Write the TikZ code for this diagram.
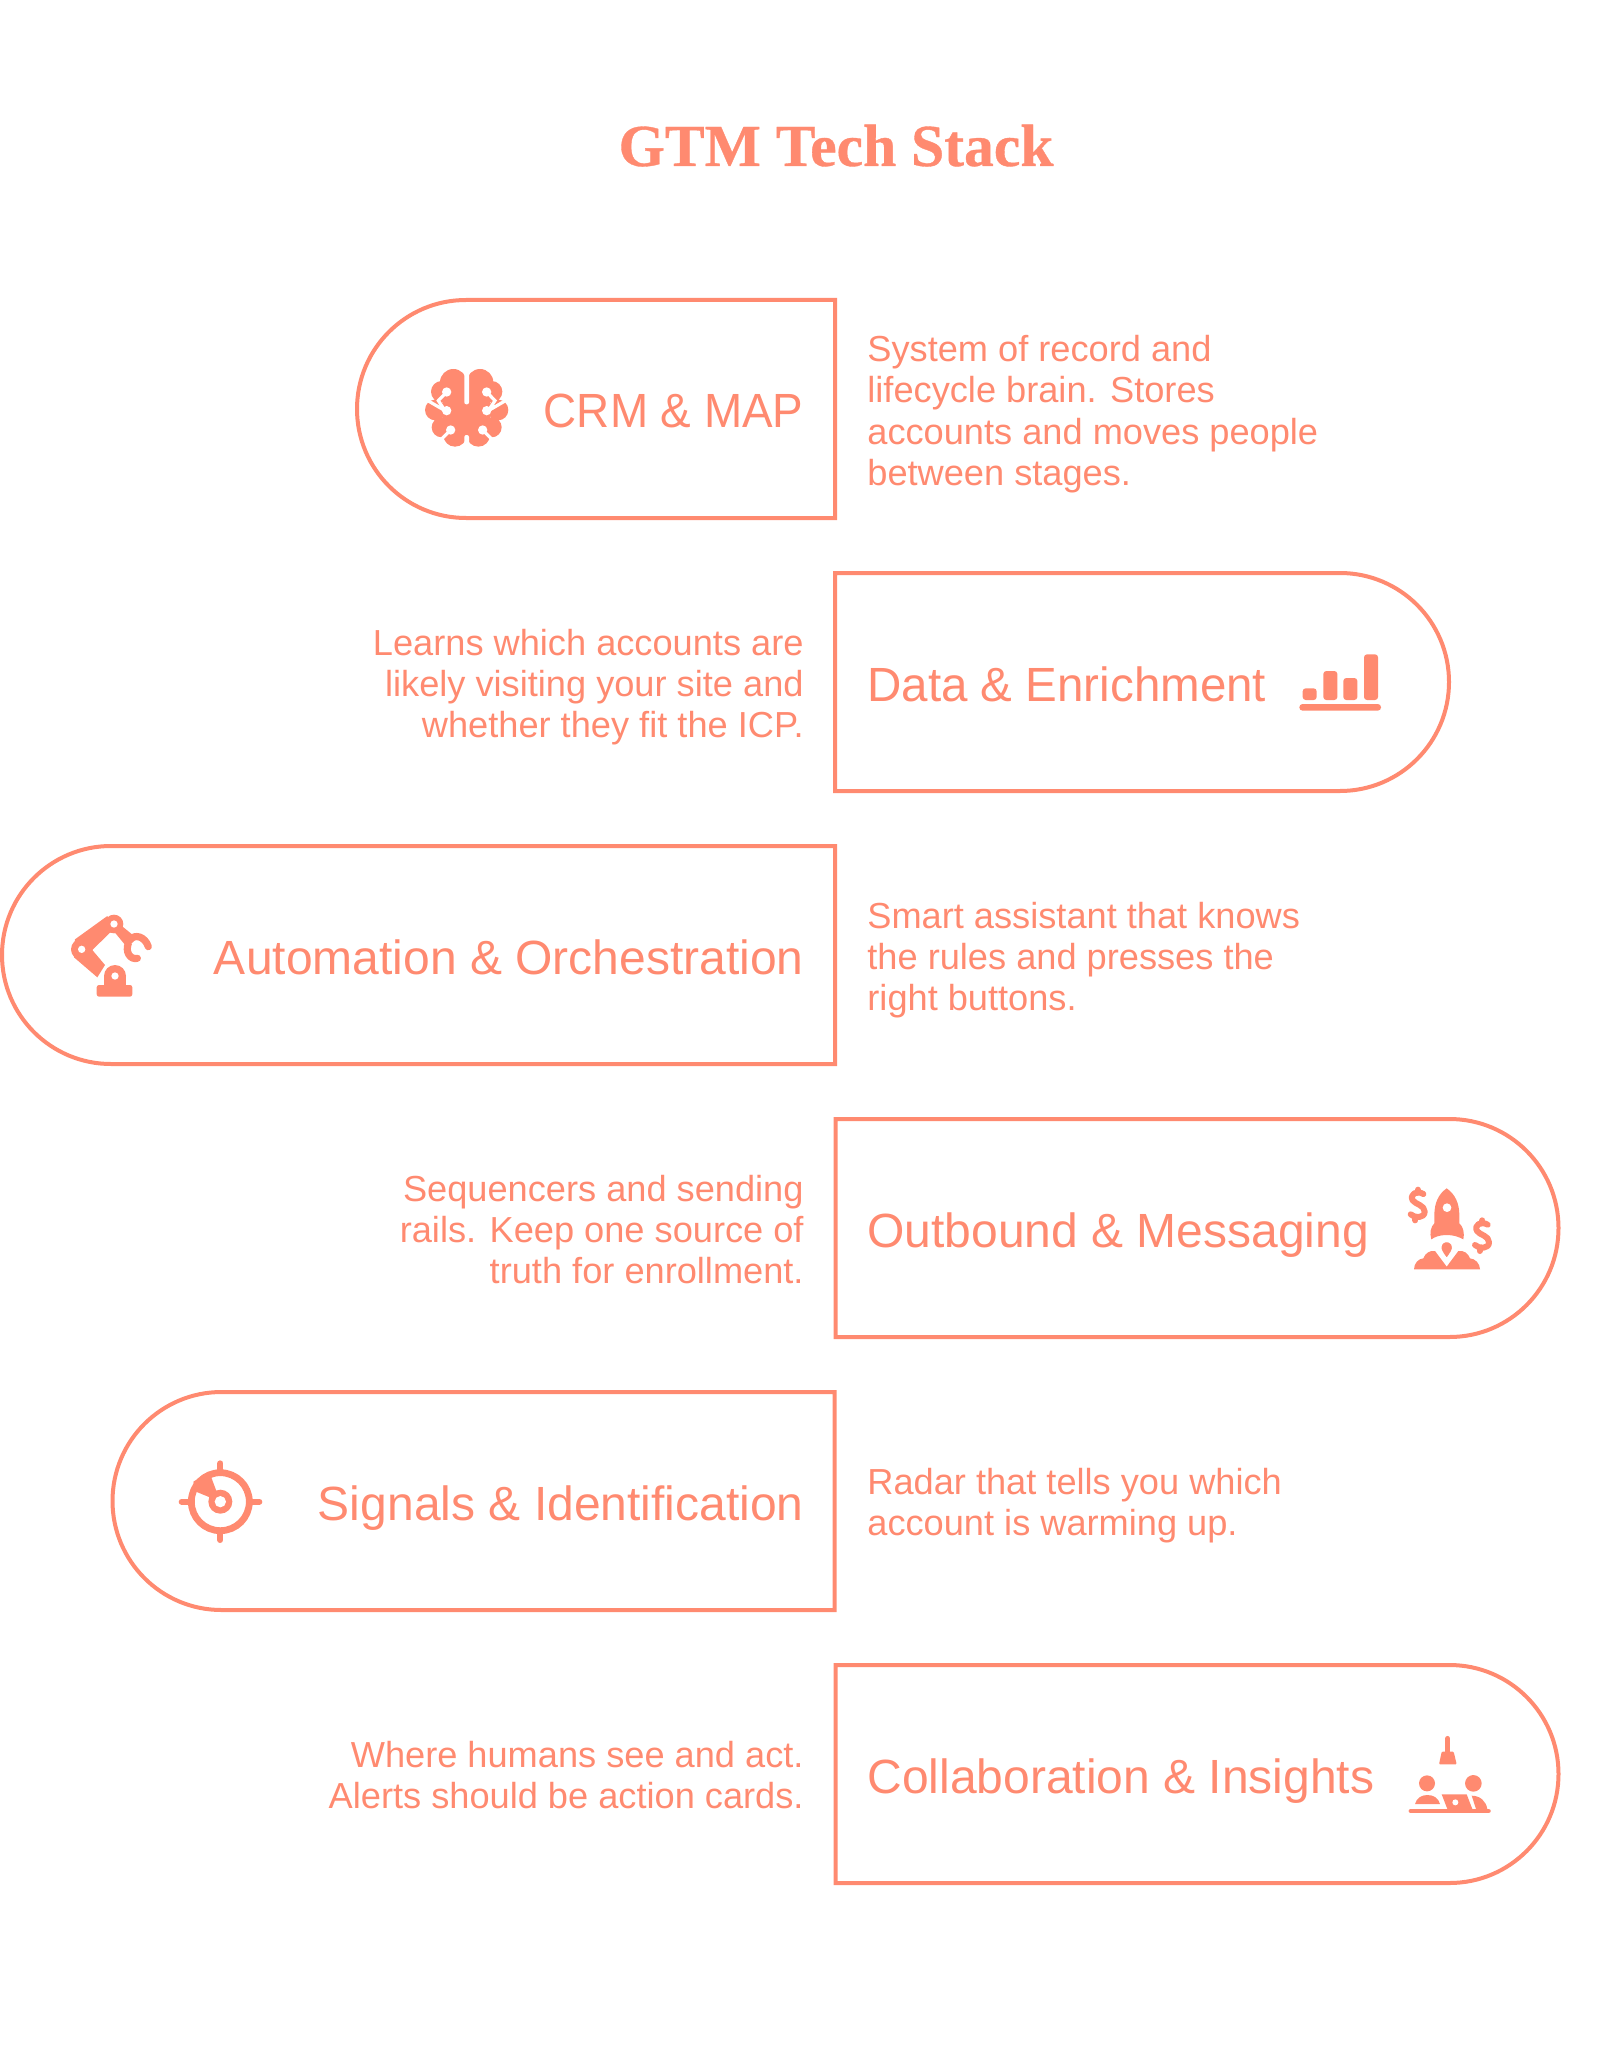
\documentclass[tikz,border=0pt]{standalone}
\usepackage{fontspec}
\setmainfont{Liberation Sans}
\newfontfamily\titlefont[BoldFeatures={FakeBold=0.6}]{Liberation Serif}
\definecolor{stackCoral}{HTML}{FF8A70}
\usetikzlibrary{positioning,shapes.misc}
\newcommand{\dollarmark}[2]{%
  \begin{scope}[shift={(#1,#2)}]
    \draw[iconline, line width=3pt] (18,-33) .. controls (-2,-45) and (-24,-32) .. (-14,-14) .. controls (-6,-2) and (22,0) .. (22,20) .. controls (22,40) and (-8,40) .. (-20,28);
    \draw[iconline, line width=3pt] (2,-46) -- (2,-38) (-6,38) -- (-6,46);
  \end{scope}}

\begin{document}
\begin{tikzpicture}[
  x=0.5pt, y=-0.5pt,
  pillbox/.style={rounded rectangle, draw=stackCoral, line width=2pt, inner sep=0pt,
    minimum height=109pt},
  pillflatright/.style={pillbox, rounded rectangle east arc=none},
  pillflatleft/.style={pillbox, rounded rectangle west arc=none},
  stacklabel/.style={text=stackCoral, inner sep=0pt, font=\fontsize{24}{28}\selectfont},
  stackdesc/.style={text=stackCoral, inner sep=0pt, font=\fontsize{18.1}{20.5}\selectfont},
  iconfill/.style={fill=stackCoral, draw=none},
  iconcut/.style={fill=white, draw=none},
  iconline/.style={draw=stackCoral, line cap=round, line join=round},
  iconunit/.style={x=0.16667pt, y=-0.16667pt}
]
  \useasboundingbox (0,0) rectangle (1600,2048);

  \node[text=stackCoral, anchor=base, inner sep=0pt, font=\titlefont\bfseries\fontsize{29.8}{34}\selectfont] (title) at (836,166) {GTM Tech Stack};

  \node[pillflatright] (crm) at (596,409) [minimum width=239pt] {};
  \node[pillflatleft] (data) at (1142,682) [minimum width=307pt] {};
  \node[pillflatright] (auto) at (418.5,955) [minimum width=416.5pt] {};
  \node[pillflatleft] (outbound) at (1197,1228) [minimum width=361.5pt] {};
  \node[pillflatright] (signals) at (473.5,1501) [minimum width=361pt] {};
  \node[pillflatleft] (collab) at (1197,1774) [minimum width=361.5pt] {};

  \node[stacklabel, anchor=base east] (crmlabel) at (804,428) {\addfontfeature{FakeStretch=0.955}CRM \& MAP};
  \node[stacklabel, anchor=base west] (datalabel) at (867,701) {\addfontfeature{FakeStretch=0.99}Data \& Enrichment};
  \node[stacklabel, anchor=base east] (autolabel) at (804,974) {Automation \& Orchestration};
  \node[stacklabel, anchor=base west] (outboundlabel) at (867,1247) {Outbound \& Messaging};
  \node[stacklabel, anchor=base east] (signalslabel) at (804,1520) {Signals \& Identification};
  \node[stacklabel, anchor=base west] (collablabel) at (867,1793) {Collaboration \& Insights};

  \node[stackdesc, anchor=base west, align=left] (crmdesc) at (867,485) {System of record and\\lifecycle brain. Stores\\accounts and moves people\\between stages.};
  \node[stackdesc, anchor=base east, align=right] (datadesc) at (804,737) {Learns which accounts are\\likely visiting your site and\\whether they fit the ICP.};
  \node[stackdesc, anchor=base west, align=left] (autodesc) at (867,1010) {Smart assistant that knows\\the rules and presses the\\right buttons.};
  \node[stackdesc, anchor=base east, align=right] (outbounddesc) at (804,1283) {Sequencers and sending\\rails. Keep one source of\\truth for enrollment.};
  \node[stackdesc, anchor=base west, align=left] (signalsdesc) at (867,1535.5) {Radar that tells you which\\account is warming up.};
  \node[stackdesc, anchor=base east, align=right] (collabdesc) at (804,1808.5) {Where humans see and act.\\Alerts should be action cards.};

  % brain
  \begin{scope}[shift={(410,350)}, iconunit]
    \fill[iconfill] (130,97) circle (40) (210,97) circle (40) (95,125) circle (32) (245,125) circle (32)
      (76,180) circle (31) (264,180) circle (31) (95,232) circle (30) (245,232) circle (30)
      (135,255) circle (35) (205,255) circle (35);
    \fill[iconfill] (100,100) rectangle (240,260);
    \draw[draw=white, line width=1.6pt, line cap=round] (110,126) -- (85,152) -- (105,182) (50,150) -- (105,182)
      (230,126) -- (255,152) -- (235,182) (290,150) -- (235,182) (122,240) -- (88,274) (218,240) -- (252,274);
    \fill[iconcut] (110,126) circle (14) (230,126) circle (14) (110,182) circle (14) (230,182) circle (14)
      (122,240) circle (14) (218,240) circle (14);
    \fill[iconcut, rounded corners=1pt] (163,50) rectangle (177,163) (163,255) rectangle (177,300);
  \end{scope}

  % bars
  \begin{scope}[shift={(1260,620)}, iconunit]
    \fill[iconfill, rounded corners=1.5pt] (128,240) rectangle (170,205) (190,240) rectangle (232,153)
      (250,240) rectangle (292,174) (312,240) rectangle (354,103);
    \fill[iconfill, rounded corners=1.6pt] (118,252) rectangle (363,272);
  \end{scope}

  % robot arm
  \begin{scope}[shift={(50,900)}, iconunit]
    \fill[iconfill] (95,148) circle (32) (192,72) circle (28);
    \fill[iconfill] (75,118) -- (172,48) -- (195,95) -- (180,98) -- (127,150) -- (165,195) -- (142,232) -- (72,172) -- cycle;
    \fill[iconfill] (212,75) -- (252,108) -- (228,138) -- (195,98) -- cycle;
    \draw[iconline, line width=3.6pt] (240,120) .. controls (255,100) and (285,110) .. (295,140);
    \draw[iconline, line width=3.6pt] (235,130) .. controls (225,155) and (240,180) .. (262,175);
    \fill[iconcut] (195,228) circle (40);
    \fill[iconfill] (195,228) circle (33);
    \fill[iconfill] (162,228) rectangle (228,262);
    \fill[iconfill, rounded corners=1.2pt] (140,290) rectangle (247,255);
    \fill[iconcut] (95,148) circle (11) (192,72) circle (11) (195,228) circle (11);
  \end{scope}

  % rocket
  \begin{scope}[shift={(1390,1170)}, iconunit]
    \fill[iconfill] (170,55) .. controls (195,72) and (208,100) .. (208,135) -- (208,160) .. controls (220,170) and (224,190) .. (220,208)
      .. controls (205,200) and (190,195) .. (170,195) .. controls (150,195) and (135,200) .. (124,208)
      .. controls (118,190) and (122,170) .. (133,160) -- (133,135) .. controls (133,100) and (145,72) .. (170,55) -- cycle;
    \fill[iconcut] (171,113) circle (13);
    \fill[iconfill] (72,298) .. controls (72,280) and (85,266) .. (100,265) .. controls (105,250) and (120,240) .. (135,243)
      -- (170,290) -- (205,243) .. controls (220,240) and (235,250) .. (240,265) .. controls (255,266) and (270,280) .. (270,298) -- cycle;
    \draw[draw=white, fill=stackCoral, line width=1.5pt] (170,270) .. controls (155,250) and (148,240) .. (150,230) .. controls (152,206) and (188,206) .. (190,230) .. controls (192,240) and (185,250) .. (170,270) -- cycle;
    \dollarmark{82}{105}
    \dollarmark{275}{197}
  \end{scope}

  % radar
  \begin{scope}[shift={(160,1450)}, iconunit]
    \fill[iconfill] (181,155) -- (108,125) -- (100,95) -- (150,65) -- (155,85) -- cycle;
    \draw[iconline, line width=3.4pt] (181,155) circle (87);
    \draw[iconline, line width=3pt] (181,40) -- (181,65) (65,155) -- (90,155) (272,155) -- (298,155) (181,245) -- (181,270);
    \fill[iconfill] (181,155) circle (36);
    \fill[iconcut] (181,155) circle (17);
  \end{scope}

  % meeting table
  \begin{scope}[shift={(1390,1725)}, iconunit]
    \draw[iconline, line width=2.4pt] (173,40) -- (173,85);
    \fill[iconfill, rounded corners=.5pt] (155,80) -- (191,80) -- (200,118) -- (147,118) -- cycle;
    \fill[iconfill] (111,175) circle (24) (250,175) circle (25);
    \fill[iconfill] (75,237) .. controls (80,218) and (95,210) .. (112,210) .. controls (130,210) and (145,218) .. (150,237) -- cycle;
    \fill[iconfill] (155,208) -- (230,208) -- (247,252) -- (172,252) -- cycle;
    \fill[iconcut] (196,232) circle (9);
    \fill[iconfill] (245,212) .. controls (270,212) and (288,228) .. (292,252) -- (258,252) -- cycle;
    \draw[iconline, line width=2.4pt] (63,258) -- (295,258);
  \end{scope}
\end{tikzpicture}
\end{document}
